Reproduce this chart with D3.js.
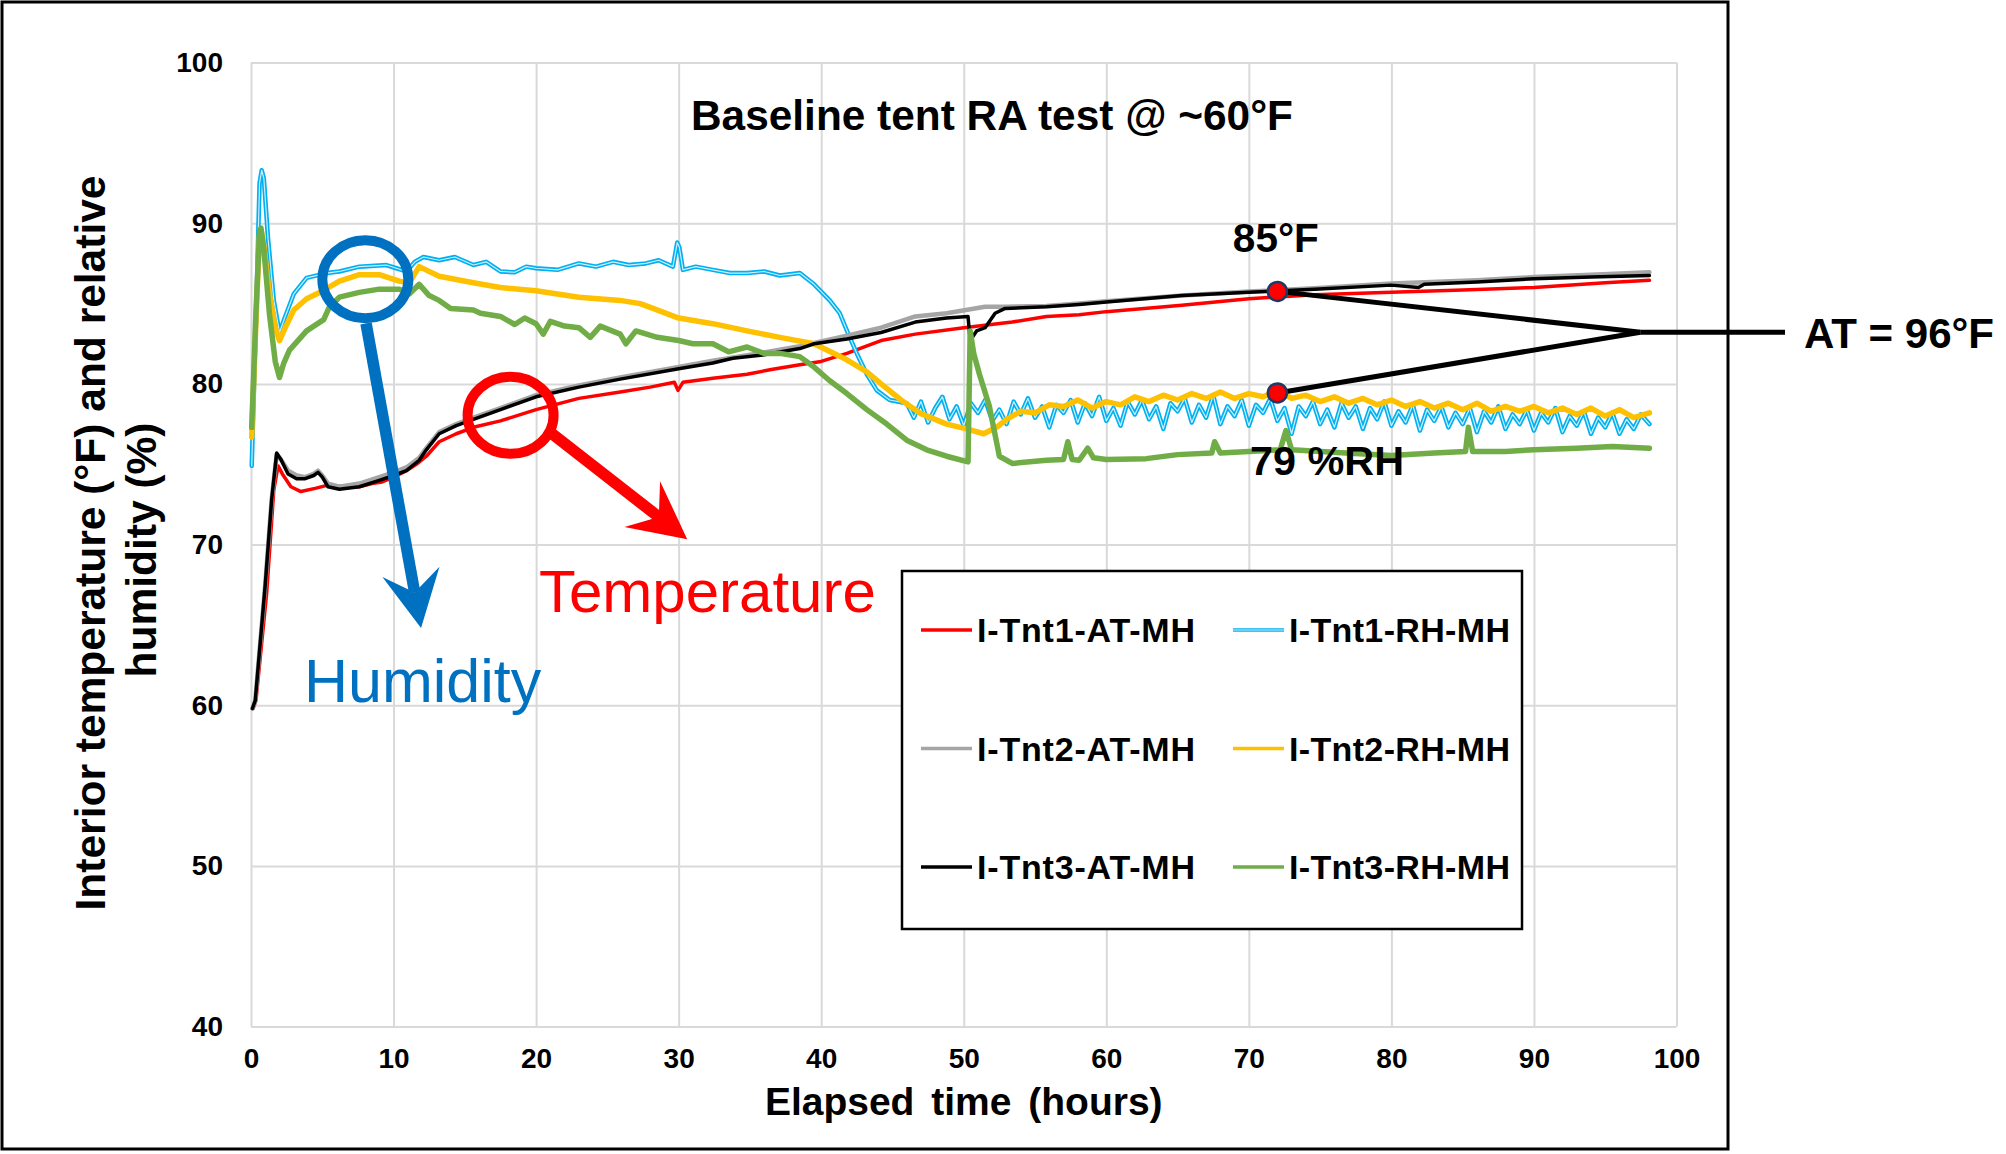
<!DOCTYPE html>
<html>
<head>
<meta charset="utf-8">
<script src="https://cdn.jsdelivr.net/npm/d3@7"></script>
<style>
    body { margin: 0; background: #fff; }
    svg { display: block; }
    .axis .tick text { font-family: 'Liberation Sans', Arial, sans-serif; font-weight: bold; font-size: 28px; fill: #000; }
    .axis .tick line { stroke: #d9d9d9; stroke-width: 2; }
    .axis .domain { display: none; }
    .series { fill: none; stroke-linejoin: round; stroke-linecap: round; }
    .bold { font-family: 'Liberation Sans', Arial, sans-serif; font-weight: bold; }
    .narrow { font-family: 'Liberation Sans Narrow', 'Arial Narrow', 'Liberation Sans', sans-serif; font-weight: bold; }
    .callout-text { font-family: 'Liberation Sans', Arial, sans-serif; }
</style>
</head>
<body>
<svg id="chart" width="2006" height="1154"></svg>
<script>
// elapsed hours vs. reading
const tnt1AT = [[0.15,59.8],[0.35,60.3],[1.1,67.0],[1.6,73.4],[1.9,74.9],[2.2,74.4],[2.8,73.6],[3.5,73.3],[4.5,73.5],[5.4,73.7],[6.5,73.6],[7.6,73.6],[8.5,73.8],[9.2,73.9],[10.0,74.2],[10.9,74.6],[11.6,75.0],[12.3,75.5],[13.2,76.4],[14.4,76.9],[15.6,77.3],[17.5,77.7],[20,78.4],[23,79.1],[25.9,79.5],[28,79.8],[29.7,80.1],[29.95,79.6],[30.3,80.1],[32.4,80.35],[34.8,80.6],[36.5,80.9],[38.5,81.2],[40,81.4],[41.8,81.9],[44.2,82.7],[46.6,83.1],[50,83.5],[53.4,83.85],[55.8,84.2],[58.1,84.3],[60,84.5],[65.3,84.9],[70,85.3],[74.6,85.55],[80,85.7],[85,85.85],[90,86.0],[95,86.3],[98.1,86.45]];

const tnt2AT = [[0.1,59.8],[0.3,60.3],[1.0,67.5],[1.45,72.8],[1.8,75.6],[2.1,75.3],[2.6,74.6],[3.2,74.3],[3.8,74.2],[4.4,74.4],[4.7,74.6],[5.0,74.3],[5.4,73.8],[6.2,73.6],[7.6,73.8],[9.0,74.2],[10.0,74.5],[10.9,74.8],[11.8,75.4],[12.3,76.0],[13.2,77.0],[14.4,77.5],[15.6,77.9],[17.5,78.5],[20,79.3],[23,79.9],[25.9,80.4],[30,81.05],[32.4,81.45],[35.9,81.95],[38.5,82.35],[41.8,83.0],[44.2,83.5],[46.6,84.2],[48.8,84.4],[51.5,84.8],[52.9,84.8],[55.8,84.85],[58.1,85.0],[60,85.15],[65.3,85.5],[70,85.75],[74.6,85.95],[80,86.25],[86,86.45],[90,86.65],[94,86.8],[98.1,86.95]];

const tnt3AT = [[0.1,59.8],[0.3,60.3],[1.0,67.5],[1.45,72.8],[1.8,75.7],[2.1,75.3],[2.6,74.4],[3.2,74.1],[3.8,74.1],[4.4,74.3],[4.7,74.5],[5.0,74.2],[5.4,73.6],[6.2,73.45],[7.6,73.6],[9.0,74.0],[10.0,74.3],[10.9,74.6],[11.8,75.25],[12.3,75.9],[13.2,76.9],[14.4,77.4],[15.6,77.8],[17.5,78.4],[20,79.2],[23,79.8],[25.9,80.3],[30,80.95],[32.4,81.3],[33.8,81.6],[35.9,81.8],[38.5,82.2],[39.5,82.5],[41.8,82.8],[44.2,83.2],[46.6,83.85],[48.8,84.1],[50.3,84.2],[50.45,82.7],[50.9,83.3],[51.5,83.5],[52.2,84.4],[52.9,84.7],[55.8,84.8],[58.1,84.95],[60,85.1],[65.3,85.5],[70,85.7],[74.6,85.9],[80,86.15],[81.9,86.0],[82.3,86.2],[86,86.35],[90,86.55],[94,86.65],[98.1,86.75]];

const tnt1RH = [[0.05,74.9],[0.35,84.0],[0.6,92.5],[0.75,93.3],[0.9,92.8],[1.2,89.0],[1.6,85.2],[2.0,83.2],[2.4,84.2],[3.0,85.6],[3.9,86.6],[5.3,86.9],[6.2,87.0],[7.6,87.3],[9.5,87.4],[10.2,87.2],[10.9,87.0],[11.5,87.6],[12.1,87.9],[13.2,87.7],[14.3,87.9],[15.6,87.4],[16.5,87.6],[17.5,87.0],[18.5,86.95],[19.3,87.3],[20,87.2],[21.5,87.1],[23,87.5],[24.2,87.3],[25.4,87.6],[26.5,87.4],[27.7,87.5],[28.6,87.7],[29.6,87.3],[29.8,88.3],[29.9,88.8],[30.05,88.5],[30.3,87.1],[31.2,87.3],[32.4,87.1],[33.6,86.9],[34.8,86.9],[36,87.0],[37.1,86.75],[38.5,86.9],[39.5,86.2],[40.6,85.2],[41.3,84.4],[42.0,82.9],[42.5,81.9],[43.2,80.6],[43.9,79.6],[44.8,79.0],[46,78.8],
    [46.5,77.9],[47,78.9],[47.5,77.6],[48,78.5],[48.5,79.2],[49,77.8],[49.5,78.6],[50,77.4],[50.5,78.8],[51,78.2],[51.5,79.0],[52,77.7],[52.5,78.4],[53,77.5],[53.5,78.9],[54,78.1],[54.5,79.1],[55,77.9],[55.5,78.6],[56,77.3],[56.5,78.7],[57,78.2],[57.5,79.0],[58,77.6],[58.5,78.8],[59,78.0],[59.5,79.2],[60,77.7],[60.5,78.5],[61,77.4],[61.5,78.9],[62,78.1],[62.5,79.0],[63,77.8],[63.5,78.6],[64,77.2],[64.5,78.8],[65,78.3],[65.5,79.1],[66,77.6],[66.5,78.7],[67,77.9],[67.5,79.3],[68,77.5],[68.5,78.6],[69,78.0],[69.5,79.0],[70,77.4],[70.5,78.7],[71,78.2],[71.5,79.1],[72,77.7],[72.5,78.5],[73,76.9],[73.5,78.6],[74,78.0],[74.5,78.9],[75,77.5],[75.5,78.4],[76,77.3],[76.5,78.8],[77,77.9],[77.5,78.6],[78,77.2],[78.5,78.5],[79,77.8],[79.5,78.9],[80,77.4],[80.5,78.3],[81,77.6],[81.5,78.7],[82,77.1],[82.5,78.4],[83,77.7],[83.5,78.6],[84,77.3],[84.5,78.2],[85,77.5],[85.5,78.5],[86,77.0],[86.5,78.3],[87,77.6],[87.5,78.6],[88,77.2],[88.5,78.1],[89,77.5],[89.5,78.4],[90,77.1],[90.5,78.2],[91,77.6],[91.5,78.5],[92,77.0],[92.5,78.0],[93,77.4],[93.5,78.3],[94,76.9],[94.5,77.9],[95,77.3],[95.5,78.2],[96,76.9],[96.5,77.8],[97,77.2],[97.5,78.1],[98.1,77.5]];

const tnt2RH = [[0.05,76.7],[0.35,84.0],[0.6,89.3],[0.7,89.6],[0.9,88.6],[1.3,85.6],[1.7,83.5],[2.0,82.7],[2.4,83.5],[3.0,84.6],[3.9,85.3],[4.85,85.7],[6.2,86.4],[7.6,86.8],[9.0,86.8],[10.4,86.4],[11.1,86.3],[11.8,87.3],[13.2,86.7],[15.6,86.3],[17.5,86.0],[20,85.8],[23,85.4],[25.9,85.2],[27.3,85.0],[28.2,84.7],[30,84.1],[32.4,83.75],[34.8,83.3],[37.1,82.9],[39.5,82.5],[41.8,81.5],[43.2,80.75],[44.2,80.0],[45.6,79.0],[47,78.15],[48.8,77.5],[50.2,77.2],[51.4,76.9],[52.3,77.3],
    [53,77.8],[54,78.3],[55,78.2],[56,78.7],[57,78.6],[58,79.0],[59,78.5],[60,78.9],[61,78.7],[62,79.2],[63,78.9],[64,79.3],[65,79.0],[66,79.4],[67,79.1],[68,79.5],[69,79.1],[70,79.4],[71,79.2],[72,79.6],[73,79.1],[74,79.3],[75,78.9],[76,79.2],[77,78.8],[78,79.1],[79,78.7],[80,79.0],[81,78.6],[82,78.9],[83,78.5],[84,78.8],[85,78.4],[86,78.8],[87,78.3],[88,78.6],[89,78.3],[90,78.6],[91,78.2],[92,78.5],[93,78.1],[94,78.5],[95,78.0],[96,78.4],[97,77.9],[98.1,78.2]];

const tnt3RH = [[0.05,77.3],[0.35,84.5],[0.6,89.5],[0.7,89.7],[0.9,88.4],[1.3,84.3],[1.7,81.4],[2.0,80.4],[2.3,81.3],[2.7,82.1],[3.9,83.3],[5.1,84.0],[5.5,84.8],[6.2,85.4],[7.6,85.7],[9.0,85.9],[10.4,85.9],[11.1,85.6],[11.8,86.2],[12.5,85.5],[13.2,85.2],[14,84.7],[15.6,84.6],[16.1,84.4],[17.5,84.2],[18.5,83.7],[19.2,84.1],[20,83.75],[20.5,83.1],[21,83.9],[22,83.6],[23,83.5],[23.8,82.9],[24.5,83.6],[25.9,83.1],[26.3,82.5],[27,83.3],[28.5,82.9],[30,82.7],[31,82.5],[32.4,82.5],[33.5,82.0],[34.8,82.3],[36,81.9],[37.1,81.9],[38.5,81.7],[39.5,81.05],[40.6,80.2],[41.8,79.4],[43.2,78.4],[44.6,77.5],[46,76.5],[47.4,75.9],[48.8,75.5],[50.3,75.15],[50.45,83.3],[50.7,81.9],[51.1,80.6],[51.8,78.6],[52.5,75.5],[53.4,75.05],[55.8,75.25],[57,75.3],[57.3,76.4],[57.6,75.3],[58.1,75.25],[58.7,76.0],[59.1,75.4],[60,75.3],[62.8,75.35],[65,75.6],[67.4,75.7],[67.6,76.4],[68,75.7],[70,75.8],[72.2,75.9],[72.6,77.1],[73,75.9],[76.8,75.7],[80,75.55],[83,75.7],[85.2,75.8],[85.4,77.3],[85.7,75.8],[88,75.8],[90,75.9],[93,76.0],[95.5,76.1],[98.1,76.0]];

const seriesNames = ['I-Tnt1-AT-MH', 'I-Tnt1-RH-MH', 'I-Tnt2-AT-MH', 'I-Tnt2-RH-MH', 'I-Tnt3-AT-MH', 'I-Tnt3-RH-MH'];
const seriesData = [tnt1AT, tnt1RH, tnt2AT, tnt2RH, tnt3AT, tnt3RH];
const xTicks = [0, 10, 20, 30, 40, 50, 60, 70, 80, 90, 100];
const yTicks = [40, 50, 60, 70, 80, 90, 100];

// the two read-outs picked off at 72 h
const pickTime = 72;
const pickValues = [85.76, 79.44];
const pickLabels = ['85°F', '79 %RH'];

const styles = {
    'I-Tnt1-AT-MH': {color: '#ff0000', width: 3.5},
    'I-Tnt1-RH-MH': {color: '#00b0f0', width: 4.5, inner: '#cdeffc'},
    'I-Tnt2-AT-MH': {color: '#a5a5a5', width: 4.5},
    'I-Tnt2-RH-MH': {color: '#ffc000', width: 5.5},
    'I-Tnt3-AT-MH': {color: '#000000', width: 3.5},
    'I-Tnt3-RH-MH': {color: '#70ad47', width: 5.5}
};

const svg = d3.select('#chart');
const xScale = d3.scaleLinear().domain([0, 100]).range([251, 1676.5]);
const yScale = d3.scaleLinear().domain([40, 100]).range([1026.6, 62.6]);
const plotW = xScale(100) - xScale(0);
const plotH = yScale(40) - yScale(100);

// outer frame
svg.append('rect')
    .attr('x', 2).attr('y', 2).attr('width', 1726).attr('height', 1147)
    .attr('fill', '#fff').attr('stroke', '#000').attr('stroke-width', 3);

// grid + axes
svg.append('g').attr('class', 'x axis')
    .attr('transform', 'translate(0,' + yScale(40) + ')')
    .call(d3.axisBottom(xScale).tickValues(xTicks).tickSize(-plotH).tickPadding(21.5).tickFormat(d3.format('d')));
svg.append('g').attr('class', 'y axis')
    .attr('transform', 'translate(' + xScale(0) + ',0)')
    .call(d3.axisLeft(yScale).tickValues(yTicks).tickSize(-plotW).tickPadding(28).tickFormat(d3.format('d')));

// series
const line = d3.line().x(d => xScale(d[0])).y(d => yScale(d[1]));
const plot = svg.append('g').attr('class', 'series-group');
seriesNames.forEach((name, i) => {
    const st = styles[name];
    plot.append('path').datum(seriesData[i])
        .attr('class', 'series')
        .attr('stroke', st.color).attr('stroke-width', st.width)
        .attr('d', line);
    if (st.inner) {
        plot.append('path').datum(seriesData[i])
            .attr('class', 'series')
            .attr('stroke', st.inner).attr('stroke-width', 1.2)
            .attr('d', line);
    }
});

// axis titles
svg.append('text').attr('class', 'bold')
    .attr('x', xScale(50)).attr('y', 1115)
    .attr('text-anchor', 'middle').attr('font-size', 39).attr('word-spacing', 6)
    .text('Elapsed time (hours)');
svg.append('text').attr('class', 'bold')
    .attr('transform', 'translate(105,543) rotate(-90)')
    .attr('text-anchor', 'middle').attr('font-size', 42.5)
    .text('Interior temperature (°F) and relative');
svg.append('text').attr('class', 'bold')
    .attr('transform', 'translate(156,550) rotate(-90)')
    .attr('text-anchor', 'middle').attr('font-size', 42.5)
    .text('humidity (%)');

// chart title
svg.append('text').attr('class', 'narrow')
    .attr('x', 691).attr('y', 130).attr('font-size', 42)
    .attr('textLength', 602).attr('lengthAdjust', 'spacingAndGlyphs')
    .text('Baseline tent RA test @ ~60°F');

// callout: both read-outs tied to the ambient label
const apex = [xScale(97.47), yScale(83.22)];
const callout = svg.append('g');
pickValues.forEach(v => {
    callout.append('line')
        .attr('x1', xScale(pickTime)).attr('y1', yScale(v))
        .attr('x2', apex[0]).attr('y2', apex[1])
        .attr('stroke', '#000').attr('stroke-width', 5);
});
callout.append('line')
    .attr('x1', apex[0]).attr('y1', apex[1]).attr('x2', 1785).attr('y2', apex[1])
    .attr('stroke', '#000').attr('stroke-width', 5);
callout.selectAll('circle').data(pickValues).enter().append('circle')
    .attr('cx', xScale(pickTime)).attr('cy', d => yScale(d)).attr('r', 9.5)
    .attr('fill', '#ff0000').attr('stroke', '#1f3864').attr('stroke-width', 2.5);
callout.append('text').attr('class', 'narrow')
    .attr('x', xScale(pickTime) - 1.5).attr('y', 252).attr('text-anchor', 'middle').attr('font-size', 40)
    .attr('textLength', 86).attr('lengthAdjust', 'spacingAndGlyphs')
    .text(pickLabels[0]);
callout.append('text').attr('class', 'narrow')
    .attr('x', 1250).attr('y', 475).attr('font-size', 40)
    .attr('textLength', 154).attr('lengthAdjust', 'spacingAndGlyphs')
    .text(pickLabels[1]);
callout.append('text').attr('class', 'narrow')
    .attr('x', 1804).attr('y', 348).attr('font-size', 42)
    .attr('textLength', 190).attr('lengthAdjust', 'spacingAndGlyphs')
    .text('AT = 96°F');

// hand-drawn style circles + arrows
function arrow(g, from, tip, color) {
    const dx = tip[0] - from[0], dy = tip[1] - from[1];
    const len = Math.sqrt(dx * dx + dy * dy);
    const ux = dx / len, uy = dy / len, nx = -uy, ny = ux;
    const L = 57, W = 29, notch = 36;
    g.append('line')
        .attr('x1', from[0]).attr('y1', from[1])
        .attr('x2', tip[0] - notch * ux).attr('y2', tip[1] - notch * uy)
        .attr('stroke', color).attr('stroke-width', 11.5);
    const pts = [
        [tip[0], tip[1]],
        [tip[0] - L * ux + W * nx, tip[1] - L * uy + W * ny],
        [tip[0] - notch * ux, tip[1] - notch * uy],
        [tip[0] - L * ux - W * nx, tip[1] - L * uy - W * ny]
    ];
    g.append('polygon').attr('points', pts.map(p => p.join(',')).join(' ')).attr('fill', color);
}

const notes = svg.append('g');
notes.append('ellipse')
    .attr('cx', xScale(8.02)).attr('cy', yScale(86.52)).attr('rx', 43).attr('ry', 39)
    .attr('fill', 'none').attr('stroke', '#0070c0').attr('stroke-width', 10);
arrow(notes, [xScale(8.07), yScale(83.77)], [xScale(11.93), yScale(64.81)], '#0070c0');
notes.append('text').attr('class', 'callout-text')
    .attr('x', 304).attr('y', 702).attr('font-size', 61).attr('fill', '#0070c0')
    .text('Humidity');

notes.append('ellipse')
    .attr('cx', xScale(18.21)).attr('cy', yScale(78.05)).attr('rx', 43).attr('ry', 38.5)
    .attr('fill', 'none').attr('stroke', '#ff0000').attr('stroke-width', 10);
arrow(notes, [xScale(21.1), yScale(76.91)], [xScale(30.6), yScale(70.34)], '#ff0000');
notes.append('text').attr('class', 'callout-text')
    .attr('x', 539).attr('y', 612).attr('font-size', 60).attr('fill', '#ff0000')
    .text('Temperature');

// legend
const legend = svg.append('g').attr('class', 'legend');
legend.append('rect')
    .attr('x', 902).attr('y', 571).attr('width', 620).attr('height', 358)
    .attr('fill', '#fff').attr('stroke', '#000').attr('stroke-width', 2.5);
const rowY = [630, 748.5, 867];
const colX = [921, 1233];
seriesNames.forEach((name, i) => {
    const st = styles[name];
    const x = colX[i % 2], y = rowY[Math.floor(i / 2)];
    legend.append('line').attr('x1', x).attr('x2', x + 51).attr('y1', y).attr('y2', y)
        .attr('stroke', st.color).attr('stroke-width', Math.min(st.width, 3.5));
    if (st.inner) {
        legend.append('line').attr('x1', x).attr('x2', x + 51).attr('y1', y).attr('y2', y)
            .attr('stroke', st.inner).attr('stroke-width', 1.2);
    }
    legend.append('text').attr('class', 'bold')
        .attr('x', x + 56).attr('y', y + 12).attr('font-size', 34)
        .attr('textLength', i % 2 ? 221 : 218).attr('lengthAdjust', 'spacing')
        .text(name);
});
</script>
</body>
</html>
